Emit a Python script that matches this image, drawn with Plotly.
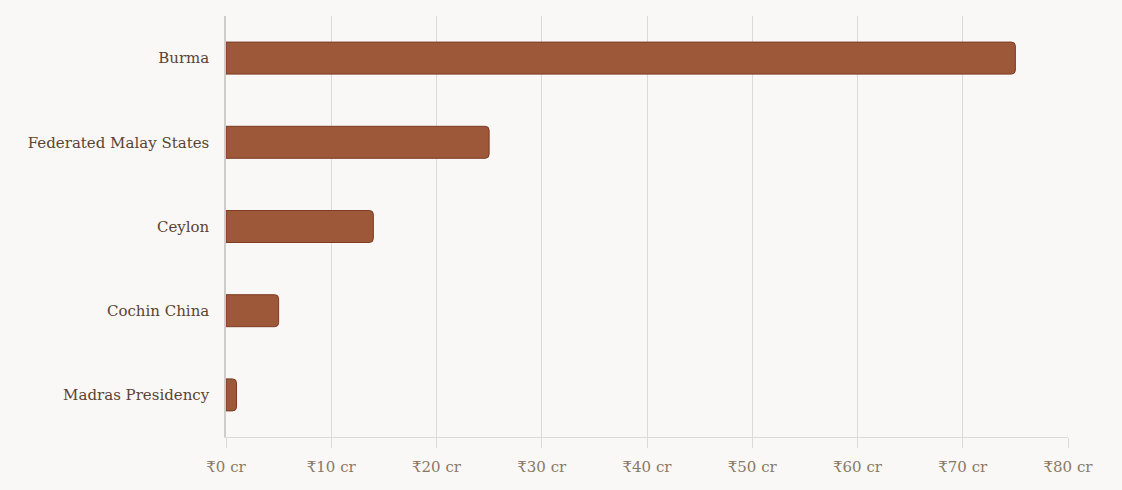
import plotly.graph_objects as go

categories = ["Burma", "Federated Malay States", "Ceylon", "Cochin China", "Madras Presidency"]
values = [75, 25, 14, 5, 1]
tick_vals = [0, 10, 20, 30, 40, 50, 60, 70, 80]
tick_text = ["₹0 cr", "₹10 cr", "₹20 cr", "₹30 cr", "₹40 cr", "₹50 cr", "₹60 cr", "₹70 cr", "₹80 cr"]

font_fam = "DejaVu Serif, Liberation Serif, serif"

fig = go.Figure(go.Bar(
    x=values, y=categories, orientation="h",
    marker=dict(color="#9d5739", line=dict(color="#7d3b22", width=1)),
    width=0.38,
))

fig.update_layout(
    width=1122, height=490,
    margin=dict(l=226, r=54, t=16, b=53),
    paper_bgcolor="#f9f8f6", plot_bgcolor="#f9f8f6",
    barcornerradius=4,
    showlegend=False,
    font=dict(family=font_fam),
)
fig.update_xaxes(
    range=[0, 80], tickvals=tick_vals, ticktext=tick_text,
    showgrid=True, gridcolor="#dcdad6", gridwidth=1,
    showline=True, linecolor="#dcdad6", linewidth=1,
    ticks="outside", ticklen=10, tickcolor="#dcdad6",
    ticklabelstandoff=6,
    tickfont=dict(size=15, color="#8a7866", family=font_fam),
    zeroline=False, fixedrange=True,
)
fig.update_yaxes(
    categoryorder="array", categoryarray=categories[::-1],
    showline=True, linecolor="#cfcdc9", linewidth=1.5,
    ticks="", ticklabelstandoff=12,
    tickfont=dict(size=15, color="#5a4332", family=font_fam),
    showgrid=False, fixedrange=True,
)
fig.write_html("out.html")
